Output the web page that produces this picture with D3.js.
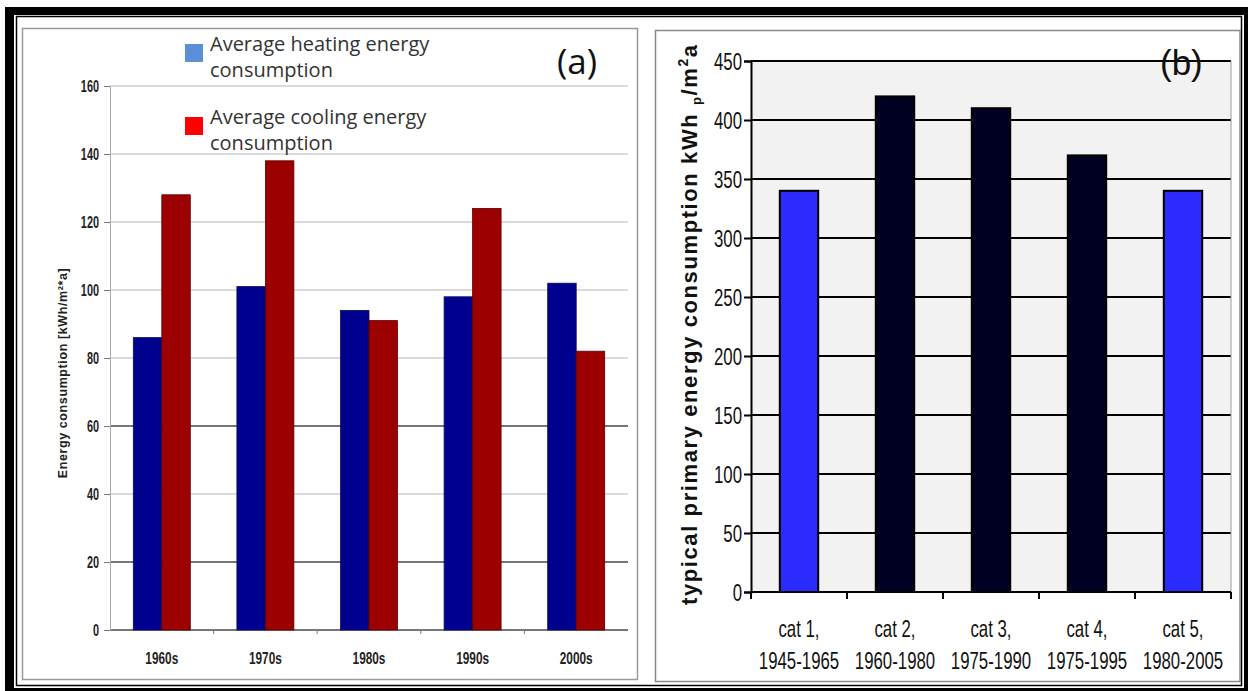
<!DOCTYPE html>
<html>
<head>
<meta charset="utf-8">
<script src="https://cdn.jsdelivr.net/npm/d3@7"></script>
<style>
  body { margin: 0; background: #fff; }
  svg { display: block; }
</style>
</head>
<body>
<div id="chart"></div>
<script>
// panel (a) data
const decades = ["1960s", "1970s", "1980s", "1990s", "2000s"];
const heating = [86, 101, 94, 98, 102];
const cooling = [128, 138, 91, 124, 82];
const ticksA = [0, 20, 40, 60, 80, 100, 120, 140, 160];

// panel (b) data
const catNames = ["cat 1,", "cat 2,", "cat 3,", "cat 4,", "cat 5,"];
const catYears = ["1945-1965", "1960-1980", "1975-1990", "1975-1995", "1980-2005"];
const primary = [340, 420, 410, 370, 340];
const ticksB = [0, 50, 100, 150, 200, 250, 300, 350, 400, 450];

const svgWidth = 1248;
const svgHeight = 691;
const arial = "'Liberation Sans', Arial, sans-serif";
const calibri = "'Open Sans', 'Noto Sans', sans-serif";

const svg = d3.select("#chart")
  .append("svg")
  .attr("width", svgWidth)
  .attr("height", svgHeight);

svg.append("rect").attr("width", svgWidth).attr("height", svgHeight).attr("fill", "#fff");

// outer double frame
svg.append("rect").attr("x", 5).attr("y", 7).attr("width", 1243).attr("height", 8).attr("fill", "#000");
svg.append("rect").attr("x", 5).attr("y", 7).attr("width", 9).attr("height", 684).attr("fill", "#000");
svg.append("rect").attr("x", 1244).attr("y", 7).attr("width", 4).attr("height", 684).attr("fill", "#000");
svg.append("rect").attr("x", 5).attr("y", 688).attr("width", 1243).attr("height", 3).attr("fill", "#000");
svg.append("rect").attr("x", 16.5).attr("y", 16.5).attr("width", 1225).attr("height", 669)
  .attr("fill", "none").attr("stroke", "#000").attr("stroke-width", 1.5);

// panel borders
svg.append("rect").attr("x", 22.5).attr("y", 28.5).attr("width", 615).attr("height", 651)
  .attr("fill", "#fff").attr("stroke", "#999").attr("stroke-width", 1.5);
svg.append("rect").attr("x", 655.5).attr("y", 30.5).attr("width", 584.5).attr("height", 651)
  .attr("fill", "#fff").attr("stroke", "#888").attr("stroke-width", 1.5);

// narrow text helper: squeeze horizontally around the anchor point
function narrowText(g, x, y, txt, size, squeeze, bold) {
  return g.append("text")
    .attr("transform", `translate(${x}, ${y}) scale(${squeeze}, 1)`)
    .attr("text-anchor", "middle")
    .attr("font-family", arial)
    .attr("font-weight", bold ? "bold" : "normal")
    .attr("font-size", size)
    .attr("fill", "#111")
    .text(txt);
}

// ---------- panel (a) ----------
const a = { left: 110, right: 628, top: 86, bottom: 630 };

const xA = d3.scaleBand()
  .domain(decades)
  .range([a.left, a.right])
  .paddingInner(0.45)
  .paddingOuter(0.225);

const xSub = d3.scaleBand()
  .domain(["heating", "cooling"])
  .range([0, xA.bandwidth()]);

const yA = d3.scaleLinear()
  .domain([0, 160])
  .range([a.bottom, a.top]);

const gA = svg.append("g");

// gridlines
gA.selectAll(".gridA")
  .data(ticksA)
  .enter()
  .append("line")
  .attr("x1", a.left)
  .attr("x2", a.right)
  .attr("y1", d => yA(d))
  .attr("y2", d => yA(d))
  .attr("stroke", d => (d === 60 || d === 20 || d === 0) ? "#777" : "#b8b8b8")
  .attr("stroke-width", d => (d === 60 || d === 20 || d === 0) ? 2 : 1.2);

// y axis
const leftAxisA = d3.axisLeft(yA).tickValues(ticksA).tickSize(6).tickFormat("");
gA.append("g")
  .attr("transform", `translate(${a.left}, 0)`)
  .call(leftAxisA)
  .call(g => g.select(".domain").attr("stroke", "#aaa"))
  .call(g => g.selectAll(".tick line").attr("stroke", "#777"));

ticksA.forEach(t => {
  narrowText(gA, 99, yA(t) + 5.5, t, 16, 0.68, true)
    .attr("text-anchor", "end")
    .attr("fill", "#222");
});

// x axis ticks at category boundaries
gA.selectAll(".xtickA")
  .data(decades.slice(1))
  .enter()
  .append("line")
  .attr("x1", d => xA(d) - xA.step() * xA.paddingInner() / 2)
  .attr("x2", d => xA(d) - xA.step() * xA.paddingInner() / 2)
  .attr("y1", a.bottom)
  .attr("y2", a.bottom + 4)
  .attr("stroke", "#777");

decades.forEach(d => {
  narrowText(gA, xA(d) + xA.bandwidth() / 2, 664, d, 16, 0.74, true).attr("fill", "#222");
});

// bars
const groups = gA.selectAll(".grp")
  .data(decades.map((d, i) => ({ decade: d, heating: heating[i], cooling: cooling[i] })))
  .enter()
  .append("g")
  .attr("transform", d => `translate(${xA(d.decade)}, 0)`);

groups.append("rect")
  .attr("x", xSub("heating"))
  .attr("y", d => yA(d.heating))
  .attr("width", xSub.bandwidth())
  .attr("height", d => yA(0) - yA(d.heating))
  .attr("fill", "#00008e")
  .attr("stroke", "#0a0a60")
  .attr("stroke-width", 0.8);

groups.append("rect")
  .attr("x", xSub("cooling"))
  .attr("y", d => yA(d.cooling))
  .attr("width", xSub.bandwidth())
  .attr("height", d => yA(0) - yA(d.cooling))
  .attr("fill", "#9c0000")
  .attr("stroke", "#5a0000")
  .attr("stroke-width", 0.8);

// y title
gA.append("text")
  .attr("transform", "translate(67, 373) rotate(-90)")
  .attr("text-anchor", "middle")
  .attr("font-family", arial)
  .attr("font-weight", "bold")
  .attr("font-size", 12.5)
  .attr("letter-spacing", 0.6)
  .attr("fill", "#222")
  .text("Energy consumption  [kWh/m²*a]");

// legend
const legendA = [
  { label: ["Average heating energy", "consumption"], color: "#5b8fd8", y: 44 },
  { label: ["Average cooling energy", "consumption"], color: "#ff0000", y: 117 }
];
legendA.forEach(l => {
  gA.append("rect").attr("x", 185).attr("y", l.y).attr("width", 18).attr("height", 18).attr("fill", l.color);
  l.label.forEach((t, j) => {
    gA.append("text")
      .attr("x", 210)
      .attr("y", l.y + 7 + j * 26)
      .attr("font-family", calibri)
      .attr("font-size", 20)
      .attr("fill", "#333")
      .text(t);
  });
});

gA.append("text")
  .attr("x", 557)
  .attr("y", 74)
  .attr("font-family", calibri)
  .attr("font-size", 35)
  .attr("fill", "#111")
  .text("(a)");

// ---------- panel (b) ----------
const b = { left: 751, right: 1231, top: 61, bottom: 592 };

const xB = d3.scaleBand()
  .domain(catNames)
  .range([b.left, b.right])
  .paddingInner(0.6)
  .paddingOuter(0.3);

const yB = d3.scaleLinear()
  .domain([0, 450])
  .range([b.bottom, b.top]);

const gB = svg.append("g");

gB.append("rect")
  .attr("x", b.left).attr("y", b.top)
  .attr("width", b.right - b.left).attr("height", b.bottom - b.top)
  .attr("fill", "#f2f2f2");

gB.selectAll(".gridB")
  .data(ticksB)
  .enter()
  .append("line")
  .attr("x1", b.left)
  .attr("x2", b.right)
  .attr("y1", d => yB(d))
  .attr("y2", d => yB(d))
  .attr("stroke", "#000")
  .attr("stroke-width", 2);

gB.append("line")
  .attr("x1", b.right).attr("x2", b.right)
  .attr("y1", b.top).attr("y2", b.bottom)
  .attr("stroke", "#999").attr("stroke-width", 1);

gB.selectAll(".barB")
  .data(primary)
  .enter()
  .append("rect")
  .attr("x", (d, i) => xB(catNames[i]))
  .attr("y", d => yB(d))
  .attr("width", xB.bandwidth())
  .attr("height", d => yB(0) - yB(d))
  .attr("fill", (d, i) => (i === 0 || i === 4) ? "#2b2bff" : "#000022")
  .attr("stroke", "#000")
  .attr("stroke-width", 2);

const leftAxisB = d3.axisLeft(yB).tickValues(ticksB).tickSize(7).tickFormat("");
gB.append("g")
  .attr("transform", `translate(${b.left}, 0)`)
  .call(leftAxisB)
  .call(g => g.select(".domain").attr("stroke", "#000").attr("stroke-width", 2))
  .call(g => g.selectAll(".tick line").attr("stroke", "#000").attr("stroke-width", 2));

ticksB.forEach(t => {
  narrowText(gB, 742, yB(t) + 9, t, 24, 0.7, false).attr("text-anchor", "end");
});

// bottom axis with ticks at band boundaries
gB.append("line")
  .attr("x1", b.left).attr("x2", b.right)
  .attr("y1", b.bottom).attr("y2", b.bottom)
  .attr("stroke", "#000").attr("stroke-width", 2);

const boundaries = catNames.map(c => xB(c) - xB.step() * xB.paddingInner() / 2).concat([b.right]);
gB.selectAll(".xtickB")
  .data(boundaries)
  .enter()
  .append("line")
  .attr("x1", d => d).attr("x2", d => d)
  .attr("y1", b.bottom).attr("y2", b.bottom + 7)
  .attr("stroke", "#000").attr("stroke-width", 2);

catNames.forEach((c, i) => {
  const cx = xB(c) + xB.bandwidth() / 2;
  narrowText(gB, cx, 637, c, 24, 0.7, false);
  narrowText(gB, cx, 669, catYears[i], 24, 0.7, false);
});

// y title with sub/superscript
const titleB = gB.append("text")
  .attr("transform", "translate(697, 605) rotate(-90)")
  .attr("font-family", arial)
  .attr("font-weight", "bold")
  .attr("font-size", 22)
  .attr("letter-spacing", 1.6)
  .attr("fill", "#111");
titleB.append("tspan").text("typical primary energy consumption kWh ");
titleB.append("tspan").attr("font-size", 13).attr("dy", 4).text("p");
titleB.append("tspan").attr("dy", -4).text("/m");
titleB.append("tspan").attr("font-size", 14).attr("dy", -9).text("2");
titleB.append("tspan").attr("dy", 9).text("a");

gB.append("text")
  .attr("x", 1160)
  .attr("y", 75)
  .attr("font-family", arial)
  .attr("font-size", 35)
  .attr("fill", "#111")
  .text("(b)");
</script>
</body>
</html>
